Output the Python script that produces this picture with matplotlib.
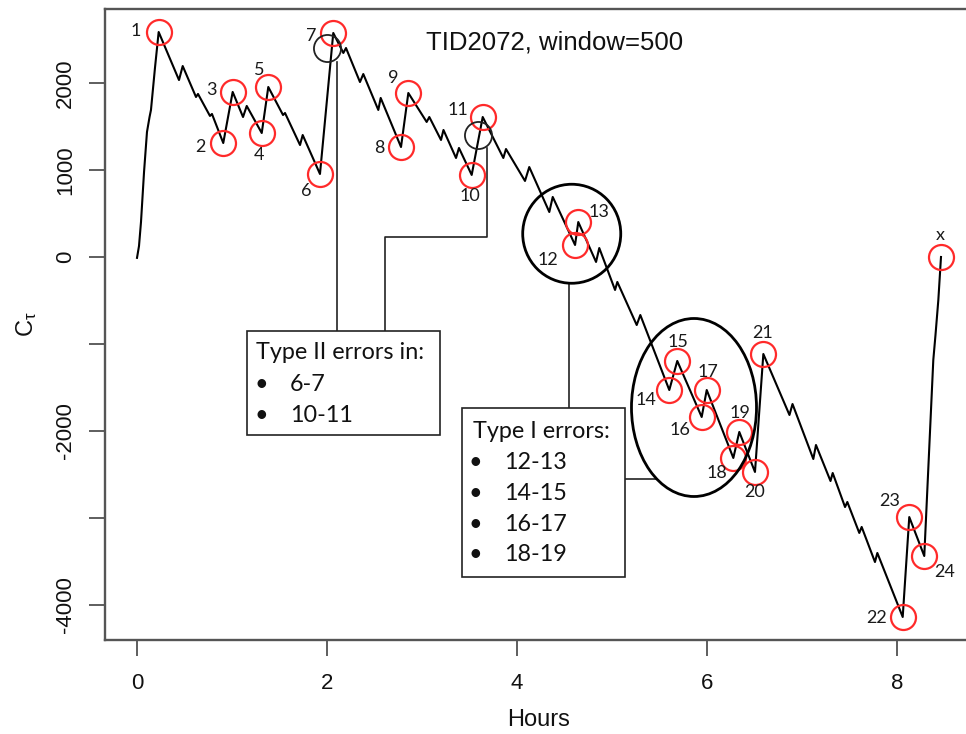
import matplotlib
matplotlib.use('Agg')
import matplotlib.pyplot as plt
from matplotlib.patches import Ellipse, Rectangle

# ---------------- data ----------------
hours = [0.000, 0.021, 0.042, 0.074, 0.105, 0.132, 0.147, 0.189, 0.228,
         0.442, 0.481, 0.621, 0.642, 0.768, 0.789, 0.908, 1.007, 1.116,
         1.155, 1.313, 1.382, 1.537, 1.558, 1.716, 1.744, 1.926, 2.066,
         2.172, 2.200, 2.347, 2.382, 2.540, 2.565, 2.779, 2.856, 3.049,
         3.077, 3.200, 3.226, 3.358, 3.389, 3.523, 3.639, 3.856, 3.884,
         4.084, 4.129, 4.340, 4.376, 4.611, 4.645, 4.832, 4.866, 5.032,
         5.056, 5.260, 5.298, 5.603, 5.687, 5.944, 5.997, 6.277, 6.340,
         6.505, 6.593, 6.868, 6.900, 7.119, 7.147, 7.300, 7.323, 7.453,
         7.477, 7.603, 7.628, 7.768, 7.793, 8.060, 8.129, 8.287, 8.382,
         8.405, 8.435, 8.463]
ctau = [-10, 126, 402, 977, 1437, 1609, 1690, 2172, 2586,
        2034, 2195, 1839, 1874, 1621, 1644, 1310, 1897, 1609,
        1736, 1425, 1954, 1632, 1655, 1287, 1402, 954, 2575,
        2345, 2402, 2011, 2103, 1690, 1828, 1264, 1885, 1552,
        1609, 1345, 1460, 1138, 1253, 943, 1609, 1138, 1241,
        874, 1034, 517, 690, 138, 402, -57, 103, -379,
        -287, -782, -667, -1529, -1195, -1839, -1529, -2310, -2011,
        -2471, -1115, -1816, -1690, -2322, -2161, -2575, -2483, -2874,
        -2816, -3172, -3103, -3506, -3402, -4138, -2989, -3437, -1184,
        -897, -494, 0]

event_idx = [8, 15, 16, 19, 20, 25, 26, 33, 34, 41, 42, 49, 50,
             57, 58, 59, 60, 61, 62, 63, 64, 77, 78, 79, 83]
event_labels = [str(i) for i in range(1, 25)] + ['x']
label_h = [-0.011, 0.663, 0.786, 1.287, 1.287, 1.779, 1.839, 2.551, 2.698,
           3.505, 3.382, 4.329, 4.866, 5.358, 5.698, 5.716, 6.014, 6.102,
           6.347, 6.505, 6.586, 7.786, 7.926, 8.505, 8.453]
label_v = [2601, 1268, 1920, 1172, 2149, 762, 2540, 1249, 2054,
           701, 1690, -34, 521, -1644, -974, -1988, -1318, -2486,
           -1790, -2698, -877, -4153, -2801, -3617, 253]

xticks = [0, 2, 4, 6, 8]
yticks = [-4000, -3000, -2000, -1000, 0, 1000, 2000]
ytick_labels = ['-4000', '', '-2000', '', '0', '1000', '2000']

title = 'TID2072, window=500'
type2_lines = ['6-7', '10-11']
type1_lines = ['12-13', '14-15', '16-17', '18-19']

# ---------------- figure ----------------
W, H = 966, 734
fig = plt.figure(figsize=(W / 100, H / 100), dpi=100)
ax = fig.add_axes([104.8 / W, 1 - 640.4 / H, 868.4 / W, 631.8 / H])
ax.set_xlim(-0.339, 8.802)
ax.set_ylim(-4407, 2855)

axis_font = 'Liberation Sans'
note_font = 'Lato'

ax.plot(hours, ctau, color='black', lw=1.5, zorder=3)

ev_h = [hours[i] for i in event_idx]
ev_v = [ctau[i] for i in event_idx]
ax.plot(ev_h, ev_v, ls='none', marker='o', ms=18, mfc='none', mec='#ff2a2a',
        mew=1.6, zorder=4)
for lab, lh, lv in zip(event_labels, label_h, label_v):
    ax.text(lh, lv, lab, ha='center', va='center', fontsize=13,
            family=note_font, color='#1a1a1a', zorder=5)

# black small circles (type II)
ax.plot([1.995, 3.593], [2406, 1402], ls='none', marker='o', ms=19.5,
        mfc='none', mec='#222222', mew=1.3, zorder=4)

# big circle & ellipse (type I)
ax.add_patch(Ellipse((4.576, 267), 1.032, 1138, fill=False, ec='black', lw=2.0, zorder=4))
ax.add_patch(Ellipse((5.863, -1730), 1.316, 2046, fill=False, ec='black', lw=2.0, zorder=4))

# connectors
lc = dict(color='#222222', lw=1.2, zorder=2)
ax.plot([2.102, 2.102], [2241, -847], **lc)
ax.plot([3.681, 3.681, 2.611, 2.611], [1253, 233, 233, -847], **lc)
ax.plot([4.551, 4.551], [-299, -1739], **lc)
ax.plot([5.137, 5.474], [-2555, -2555], **lc)

# boxes
ax.add_patch(Rectangle((1.161, -2046), 3.189 - 1.161, 2046 - 847, fill=True,
                       fc='white', ec='#222222', lw=1.2, zorder=6))
ax.add_patch(Rectangle((3.418, -3675), 5.137 - 3.418, 3675 - 1739, fill=True,
                       fc='white', ec='#222222', lw=1.2, zorder=6))

tf = dict(family=note_font, fontsize=16.8, color='#111111', va='baseline', zorder=7)
ax.text(1.25, -1167, 'Type II errors in:', ha='left', **tf)
for k, s in enumerate(type2_lines):
    v = -1546 - k * 345
    ax.text(1.313, v, '\u2022', ha='center', **tf)
    ax.text(1.611, v, s, ha='left', **tf)
ax.text(3.537, -2078, 'Type I errors:', ha='left', **tf)
for k, s in enumerate(type1_lines):
    v = -2440 - k * 353
    ax.text(3.565, v, '\u2022', ha='center', **tf)
    ax.text(3.863, v, s, ha='left', **tf)

ax.text(4.40, 2460, title, ha='center', va='center', fontsize=18.5,
        family=axis_font, color='#111111')

# axes styling
for s in ['left', 'bottom', 'top', 'right']:
    ax.spines[s].set_color('#555555')
    ax.spines[s].set_linewidth(1.7)
ax.set_xticks(xticks)
ax.set_xticklabels([str(t) for t in xticks])
ax.set_yticks(yticks)
ax.set_yticklabels(ytick_labels, rotation=90, va='center')
ax.tick_params(axis='both', direction='out', length=11.5, width=1.1,
               color='#333333', labelsize=16, labelcolor='#111111')
ax.tick_params(axis='x', pad=12)
ax.tick_params(axis='y', pad=9)
for t in ax.get_xticklabels() + ax.get_yticklabels():
    t.set_family(axis_font)

fig.text(539 / W, 1 - 720 / H, 'Hours', ha='center', va='center',
         fontsize=17, family=axis_font, color='#111111')
fig.text(27 / W, 1 - 324.5 / H, r'$\mathregular{C_{\tau}}$', ha='center',
         va='center', rotation=90, fontsize=17, family=axis_font, color='#111111')

fig.savefig('out.png', dpi=100)
